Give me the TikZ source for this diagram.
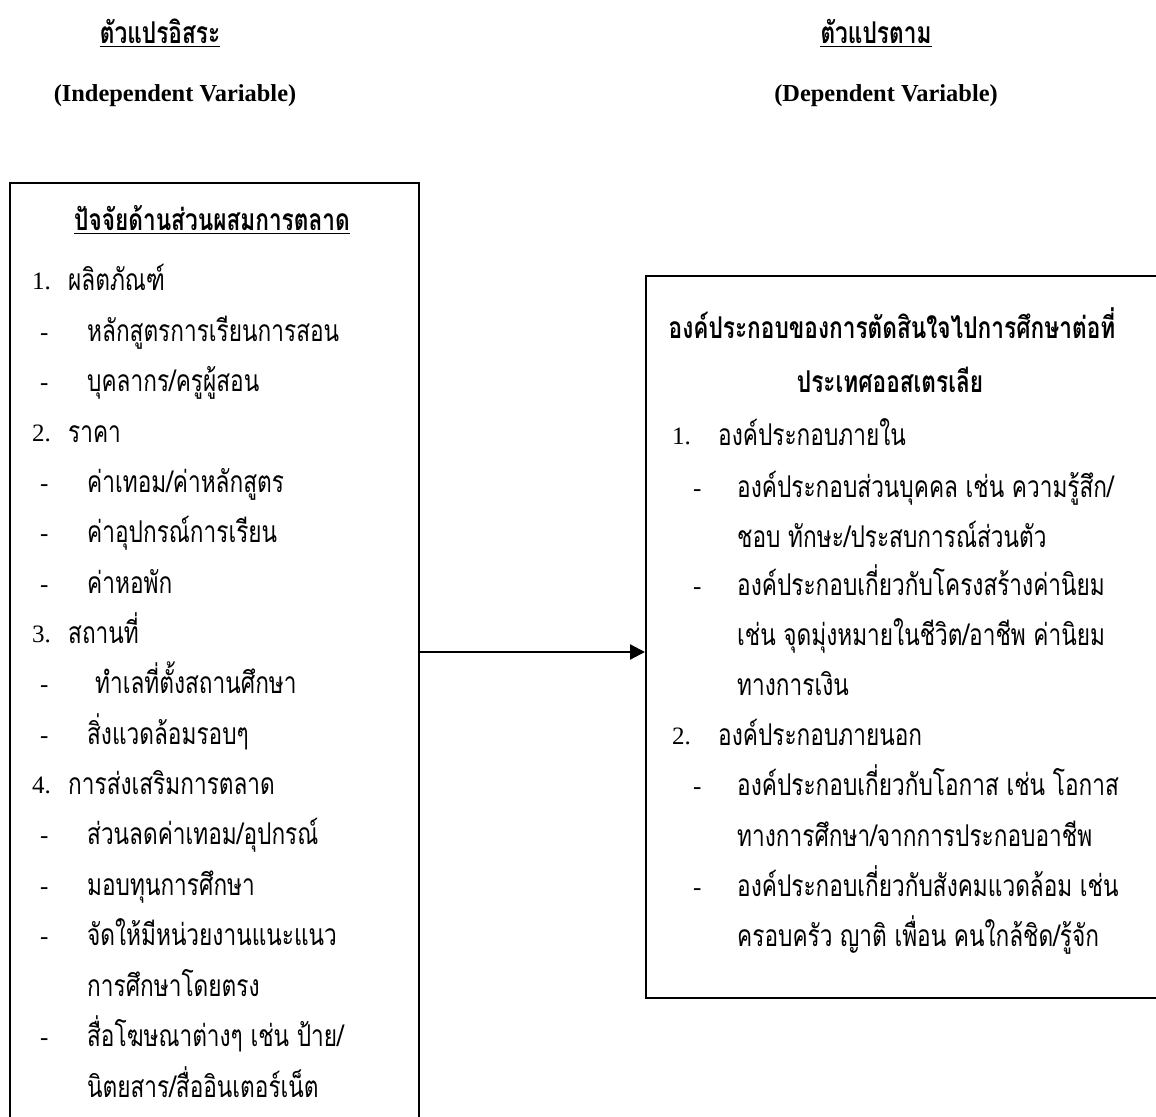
\documentclass[tikz,border=0pt]{standalone}
\usepackage{fontspec}
\setmainfont{Liberation Serif}
\newfontfamily\thai[Script=Thai,FakeStretch=0.755]{Loma}
\usetikzlibrary{arrows.meta}
\newcommand{\thsz}{\fontsize{30}{34}\selectfont\thai}
\newcommand{\thbsz}{\fontsize{30}{34}\selectfont\thai\bfseries}
\newcommand{\numsz}{\fontsize{25}{30}\selectfont}
\newcommand{\hdsz}{\fontsize{24.4}{30}\selectfont\bfseries}
\begin{document}
\begin{tikzpicture}[x=1pt,y=-1pt,
  box/.style={draw, line width=1.6pt, inner sep=0pt, anchor=north west},
  th/.style={anchor=mid west, inner sep=0pt, yshift=-8pt, font=\thsz},
  thb/.style={anchor=mid, inner sep=0pt, yshift=-8pt, font=\thbsz},
  num/.style={anchor=mid west, inner sep=0pt, yshift=-7pt, font=\numsz},
  hd/.style={anchor=mid, inner sep=0pt, yshift=-6pt, font=\hdsz},
  uline/.style={line width=1.4pt},
  conn/.style={line width=2.2pt, -{Triangle[length=15pt,width=15pt]}}]
\useasboundingbox (0,0) rectangle (1156,1116);
\clip (0,0) rectangle (1156,1116);
% headings
\node[thb] (hl) at (160,33) {ตัวแปรอิสระ};
\draw[uline] ([yshift=-3pt]hl.base west) -- ([yshift=-3pt]hl.base east);
\node[hd] (hle) at (175,93) {(Independent Variable)};
\node[thb] (hr) at (876,33) {ตัวแปรตาม};
\draw[uline] ([yshift=-3pt]hr.base west) -- ([yshift=-3pt]hr.base east);
\node[hd] (hre) at (886,93) {(Dependent Variable)};
% boxes
\node[box, minimum width=409pt, minimum height=960pt] (lbox) at (9,182) {};
\node[box, minimum width=530pt, minimum height=722pt] (rbox) at (645,275) {};
% left box text
\node[thb] (lt) at (212,220) {ปัจจัยด้านส่วนผสมการตลาด};
\draw[uline] ([yshift=-3pt]lt.base west) -- ([yshift=-3pt]lt.base east);
\node[num] (ln1) at (32,280) {1.};  \node[th] (lt1) at (68,280) {ผลิตภัณฑ์};
\node[num] (ld1) at (40,331) {-};   \node[th] (lt2) at (87,331) {หลักสูตรการเรียนการสอน};
\node[num] (ld2) at (40,381) {-};   \node[th] (lt3) at (87,381) {บุคลากร/ครูผู้สอน};
\node[num] (ln2) at (32,432) {2.};  \node[th] (lt4) at (68,432) {ราคา};
\node[num] (ld3) at (40,482) {-};   \node[th] (lt5) at (87,482) {ค่าเทอม/ค่าหลักสูตร};
\node[num] (ld4) at (40,532) {-};   \node[th] (lt6) at (87,532) {ค่าอุปกรณ์การเรียน};
\node[num] (ld5) at (40,583) {-};   \node[th] (lt7) at (87,583) {ค่าหอพัก};
\node[num] (ln3) at (32,633) {3.};  \node[th] (lt8) at (68,633) {สถานที่};
\node[num] (ld6) at (40,683) {-};   \node[th] (lt9) at (95,683) {ทำเลที่ตั้งสถานศึกษา};
\node[num] (ld7) at (40,734) {-};   \node[th] (lt10) at (87,734) {สิ่งแวดล้อมรอบๆ};
\node[num] (ln4) at (32,784) {4.};  \node[th] (lt11) at (68,784) {การส่งเสริมการตลาด};
\node[num] (ld8) at (40,834) {-};   \node[th] (lt12) at (87,834) {ส่วนลดค่าเทอม/อุปกรณ์};
\node[num] (ld9) at (40,885) {-};   \node[th] (lt13) at (87,885) {มอบทุนการศึกษา};
\node[num] (ld10) at (40,935) {-};  \node[th] (lt14) at (87,935) {จัดให้มีหน่วยงานแนะแนว};
                                    \node[th] (lt15) at (87,986) {การศึกษาโดยตรง};
\node[num] (ld11) at (40,1036) {-}; \node[th] (lt16) at (87,1036) {สื่อโฆษณาต่างๆ เช่น ป้าย/};
                                    \node[th] (lt17) at (87,1087) {นิตยสาร/สื่ออินเตอร์เน็ต};
% right box text
\node[thb] (rt1) at (892,328) {องค์ประกอบของการตัดสินใจไปการศึกษาต่อที่};
\node[thb] (rt2) at (890,382) {ประเทศออสเตรเลีย};
\node[num] (rn1) at (672,435) {1.};  \node[th] (rx1) at (718,435) {องค์ประกอบภายใน};
\node[num] (rd1) at (693,487) {-};   \node[th] (rx2) at (737,487) {องค์ประกอบส่วนบุคคล เช่น ความรู้สึก/};
                                     \node[th] (rx3) at (737,537) {ชอบ ทักษะ/ประสบการณ์ส่วนตัว};
\node[num] (rd2) at (693,585) {-};   \node[th] (rx4) at (737,585) {องค์ประกอบเกี่ยวกับโครงสร้างค่านิยม};
                                     \node[th] (rx5) at (737,635) {เช่น จุดมุ่งหมายในชีวิต/อาชีพ ค่านิยม};
                                     \node[th] (rx6) at (737,685) {ทางการเงิน};
\node[num] (rn2) at (672,735) {2.};  \node[th] (rx7) at (718,735) {องค์ประกอบภายนอก};
\node[num] (rd3) at (693,785) {-};   \node[th] (rx8) at (737,785) {องค์ประกอบเกี่ยวกับโอกาส เช่น โอกาส};
                                     \node[th] (rx9) at (737,836) {ทางการศึกษา/จากการประกอบอาชีพ};
\node[num] (rd4) at (693,886) {-};   \node[th] (rx10) at (737,886) {องค์ประกอบเกี่ยวกับสังคมแวดล้อม เช่น};
                                     \node[th] (rx11) at (737,936) {ครอบครัว ญาติ เพื่อน คนใกล้ชิด/รู้จัก};
% connector
\coordinate (ay) at (0,652);
\draw[conn] (lbox.east |- ay) -- (rbox.west |- ay);
\end{tikzpicture}
\end{document}
